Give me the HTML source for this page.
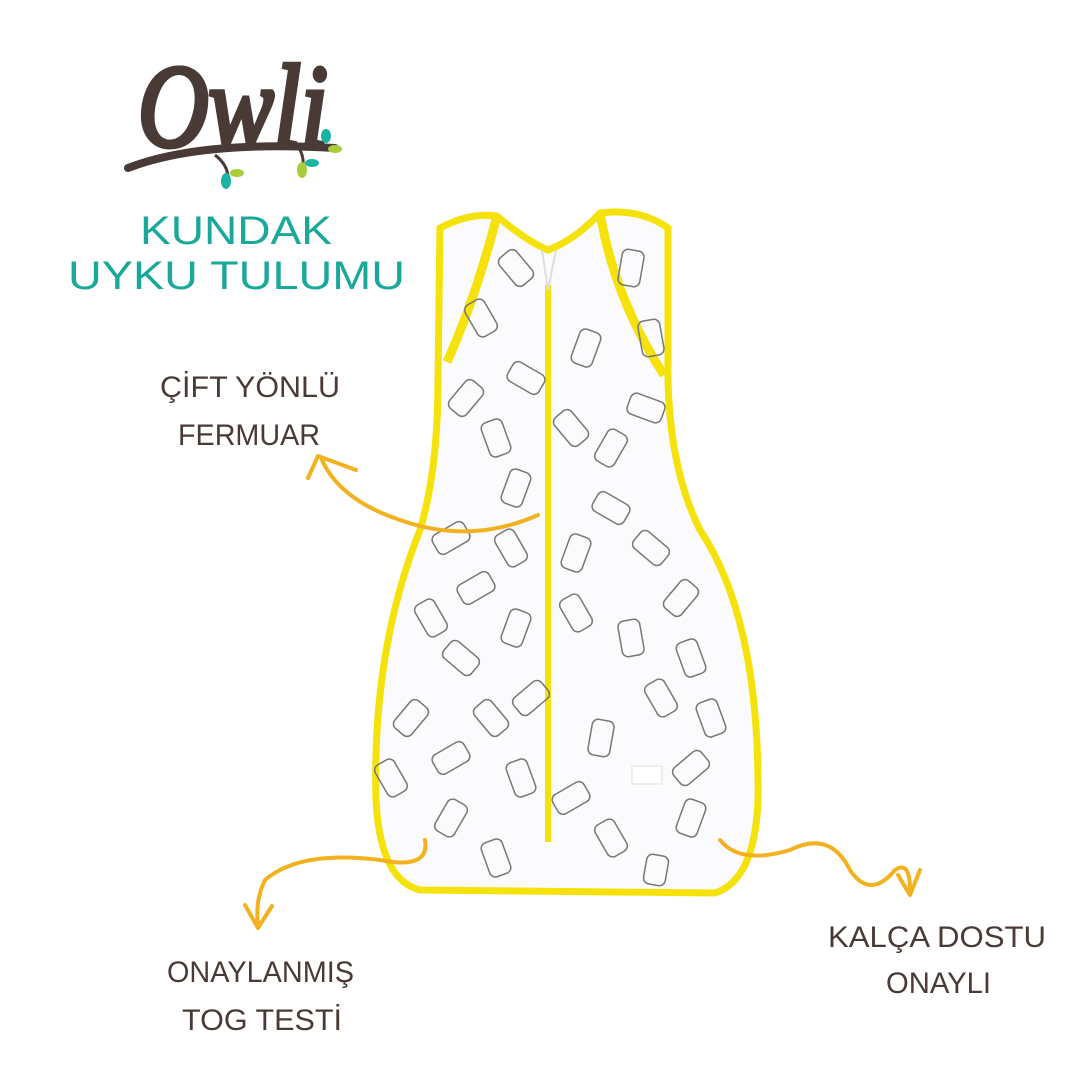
<!DOCTYPE html>
<html><head><meta charset="utf-8"><style>
html,body{margin:0;padding:0;background:#fff;}
body{width:1080px;height:1080px;overflow:hidden;position:relative;}
svg{position:absolute;left:0;top:0;}
</style></head><body>
<svg width="1080" height="1080" viewBox="0 0 1080 1080" xmlns="http://www.w3.org/2000/svg">
<!-- logo -->
<text x="138" y="146" font-family="Liberation Serif, serif" font-style="italic" font-size="118" fill="#4a3a35" stroke="#4a3a35" stroke-width="5" textLength="190" lengthAdjust="spacingAndGlyphs">Owli</text>
<path d="M128 168 Q200 140 335 148" stroke="#4a3a35" stroke-width="8" fill="none" stroke-linecap="round"/>
<path d="M215 155 Q228 165 228 178" stroke="#4a3a35" stroke-width="3" fill="none"/>
<path d="M300 150 Q305 160 302 168" stroke="#4a3a35" stroke-width="3" fill="none"/>
<ellipse cx="226" cy="181" rx="5" ry="8" fill="#1ab3a4"/>
<ellipse cx="237" cy="173" rx="7" ry="4" fill="#a8cc3a"/>
<ellipse cx="302" cy="170" rx="5" ry="8" fill="#a8cc3a"/>
<ellipse cx="312" cy="163" rx="7" ry="4" fill="#1ab3a4"/>
<ellipse cx="326" cy="136" rx="5" ry="7" fill="#1ab3a4"/>
<ellipse cx="335" cy="149" rx="7" ry="4" fill="#a8cc3a"/>
<text x="140" y="244" font-family="Liberation Sans, sans-serif" font-size="40" fill="#1aa89a" textLength="192" lengthAdjust="spacingAndGlyphs">KUNDAK</text>
<text x="68" y="289" font-family="Liberation Sans, sans-serif" font-size="40" fill="#1aa89a" textLength="337" lengthAdjust="spacingAndGlyphs">UYKU TULUMU</text>
<!-- sack -->
<path d="M440 228 Q470 212 497 216 Q525 240 548 250 Q575 240 600 213 Q640 208 668 228 L668 380 Q670 470 700 530 Q760 620 758 800 Q755 880 715 893 L420 890 Q380 880 376 800 Q372 650 420 530 Q438 470 438 380 Z" fill="#fbfbfd" stroke="#f5e20a" stroke-width="7"/>
<path d="M497 216 Q475 300 447 362" stroke="#f5e20a" stroke-width="9" fill="none"/>
<path d="M600 213 Q615 300 664 375" stroke="#f5e20a" stroke-width="9" fill="none"/>
<line x1="548" y1="285" x2="548" y2="842" stroke="#f5e20a" stroke-width="6"/>
<path d="M542 250 L548 290 L556 250" stroke="#ddd" stroke-width="2" fill="none"/>
<g fill="none" stroke="#777" stroke-width="1.5">
<rect x="470" y="300" width="22" height="36" rx="6" transform="rotate(-30 481 318)"/>
<rect x="505" y="250" width="22" height="36" rx="6" transform="rotate(-40 516 268)"/>
<rect x="620" y="250" width="22" height="36" rx="6" transform="rotate(10 631 268)"/>
<rect x="575" y="330" width="22" height="36" rx="6" transform="rotate(20 586 348)"/>
<rect x="640" y="320" width="22" height="36" rx="6" transform="rotate(-10 651 338)"/>
<rect x="515" y="360" width="22" height="36" rx="6" transform="rotate(-60 526 378)"/>
<rect x="455" y="380" width="22" height="36" rx="6" transform="rotate(40 466 398)"/>
<rect x="485" y="420" width="22" height="36" rx="6" transform="rotate(-20 496 438)"/>
<rect x="600" y="430" width="22" height="36" rx="6" transform="rotate(30 611 448)"/>
<rect x="635" y="390" width="22" height="36" rx="6" transform="rotate(-70 646 408)"/>
<rect x="560" y="410" width="22" height="36" rx="6" transform="rotate(-40 571 428)"/>
<rect x="505" y="470" width="22" height="36" rx="6" transform="rotate(20 516 488)"/>
<rect x="600" y="490" width="22" height="36" rx="6" transform="rotate(-60 611 508)"/>
<rect x="440" y="520" width="22" height="36" rx="6" transform="rotate(60 451 538)"/>
<rect x="500" y="530" width="22" height="36" rx="6" transform="rotate(-30 511 548)"/>
<rect x="565" y="535" width="22" height="36" rx="6" transform="rotate(20 576 553)"/>
<rect x="640" y="530" width="22" height="36" rx="6" transform="rotate(-50 651 548)"/>
<rect x="420" y="600" width="22" height="36" rx="6" transform="rotate(-30 431 618)"/>
<rect x="465" y="570" width="22" height="36" rx="6" transform="rotate(60 476 588)"/>
<rect x="505" y="610" width="22" height="36" rx="6" transform="rotate(20 516 628)"/>
<rect x="565" y="595" width="22" height="36" rx="6" transform="rotate(-30 576 613)"/>
<rect x="620" y="620" width="22" height="36" rx="6" transform="rotate(-10 631 638)"/>
<rect x="670" y="580" width="22" height="36" rx="6" transform="rotate(40 681 598)"/>
<rect x="450" y="640" width="22" height="36" rx="6" transform="rotate(-50 461 658)"/>
<rect x="680" y="640" width="22" height="36" rx="6" transform="rotate(-20 691 658)"/>
<rect x="400" y="700" width="22" height="36" rx="6" transform="rotate(40 411 718)"/>
<rect x="480" y="700" width="22" height="36" rx="6" transform="rotate(-40 491 718)"/>
<rect x="520" y="680" width="22" height="36" rx="6" transform="rotate(50 531 698)"/>
<rect x="590" y="720" width="22" height="36" rx="6" transform="rotate(10 601 738)"/>
<rect x="650" y="680" width="22" height="36" rx="6" transform="rotate(-30 661 698)"/>
<rect x="700" y="700" width="22" height="36" rx="6" transform="rotate(-20 711 718)"/>
<rect x="440" y="740" width="22" height="36" rx="6" transform="rotate(60 451 758)"/>
<rect x="510" y="760" width="22" height="36" rx="6" transform="rotate(-20 521 778)"/>
<rect x="560" y="780" width="22" height="36" rx="6" transform="rotate(60 571 798)"/>
<rect x="680" y="750" width="22" height="36" rx="6" transform="rotate(50 691 768)"/>
<rect x="380" y="760" width="22" height="36" rx="6" transform="rotate(-30 391 778)"/>
<rect x="440" y="800" width="22" height="36" rx="6" transform="rotate(30 451 818)"/>
<rect x="485" y="840" width="22" height="36" rx="6" transform="rotate(-20 496 858)"/>
<rect x="600" y="820" width="22" height="36" rx="6" transform="rotate(-30 611 838)"/>
<rect x="645" y="855" width="22" height="30" rx="6" transform="rotate(10 656 870)"/>
<rect x="680" y="800" width="22" height="36" rx="6" transform="rotate(20 691 818)"/>
</g>
<rect x="632" y="766" width="30" height="18" fill="#fff" stroke="#ddd"/>
<!-- labels -->
<g font-family="Liberation Sans, sans-serif" font-size="30" fill="#4a3a35">
<text x="160" y="397" textLength="180" lengthAdjust="spacingAndGlyphs">ÇİFT YÖNLÜ</text>
<text x="178" y="445" textLength="142" lengthAdjust="spacingAndGlyphs">FERMUAR</text>
<text x="167" y="982" textLength="187" lengthAdjust="spacingAndGlyphs">ONAYLANMIŞ</text>
<text x="182" y="1030" textLength="160" lengthAdjust="spacingAndGlyphs">TOG TESTİ</text>
<text x="828" y="947" textLength="218" lengthAdjust="spacingAndGlyphs">KALÇA DOSTU</text>
<text x="886" y="993" textLength="105" lengthAdjust="spacingAndGlyphs">ONAYLI</text>
</g>
<!-- arrows -->
<g fill="none" stroke="#f2b21f" stroke-width="4" stroke-linecap="round" stroke-linejoin="round">
<path d="M538 515 Q470 545 400 520 Q340 500 322 460"/>
<path d="M308 478 L318 456 L356 470"/>
<path d="M425 840 Q430 870 380 860 Q300 850 265 880 Q255 900 258 925"/>
<path d="M245 905 L258 928 L272 906"/>
<path d="M720 840 Q740 865 790 850 Q830 830 850 870 Q870 900 895 870 Q910 860 910 890"/>
<path d="M898 875 L910 895 L920 870"/>
</g>
</svg>
</body></html>
